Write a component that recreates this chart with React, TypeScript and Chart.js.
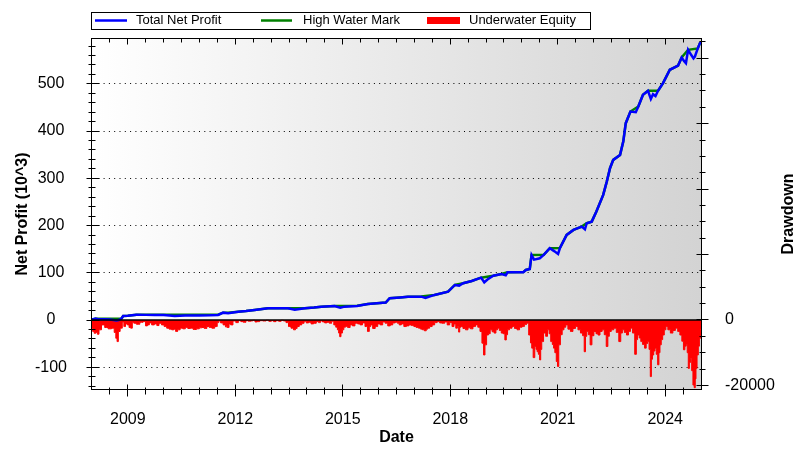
import React, { useEffect, useRef } from "react";
import { Chart, registerables } from "chart.js";

Chart.register(...registerables);

const FONT = '"Liberation Sans", Arial, Helvetica, sans-serif';

// Total Net Profit (thousands)
const profitYears = [
  2008.0, 2008.1, 2008.2, 2008.35, 2008.5, 2008.68, 2008.75, 2008.82, 2008.87, 2009.0,
  2009.24, 2009.5, 2009.75, 2010.0, 2010.31, 2010.6, 2011.0, 2011.3, 2011.52, 2011.66,
  2011.8, 2012.08, 2012.3, 2012.54, 2012.91, 2013.2, 2013.47, 2013.66, 2013.94, 2014.2,
  2014.4, 2014.77, 2014.93, 2015.05, 2015.4, 2015.7, 2016.12, 2016.2, 2016.31, 2016.6,
  2016.82, 2017.19, 2017.31, 2017.56, 2017.94, 2018.13, 2018.25, 2018.36, 2018.6, 2018.86,
  2018.95, 2019.04, 2019.2, 2019.43, 2019.55, 2019.6, 2020.04, 2020.11, 2020.22, 2020.27,
  2020.34, 2020.5, 2020.61, 2020.78, 2020.9, 2021.01, 2021.06, 2021.25, 2021.44, 2021.67,
  2021.76, 2021.81, 2021.95, 2022.08, 2022.27, 2022.37, 2022.46, 2022.55, 2022.74, 2022.83,
  2022.9, 2023.03, 2023.18, 2023.25, 2023.38, 2023.52, 2023.6, 2023.66, 2023.73, 2023.8,
  2023.94, 2024.13, 2024.36, 2024.46, 2024.53, 2024.58, 2024.64, 2024.72, 2024.79, 2024.83,
  2024.91, 2024.97, 2025.0,
];
const profitValues = [
  1, 3, 1.5, 2, 1, -1, 0, 3, 8.7, 9,
  11.5, 11, 10.8, 10.5, 8.7, 9.5, 9.5, 10, 10.8, 15.7,
  14.5, 17.8, 19, 21.4, 25, 25, 25, 22, 25, 26.5,
  28.4, 29.9, 26, 28.4, 30, 34, 36.8, 37, 46.2, 48,
  49.6, 49.6, 47, 53.2, 60.2, 74.3, 73, 77.9, 82.8, 89.8,
  80, 86, 94, 97.6, 95, 101.2, 101.2, 106, 108, 137.9,
  128, 130.8, 137.9, 152, 146, 140, 152, 180.2, 190.8, 197.8,
  192, 205, 208.4, 229.6, 264.9, 293.1, 321.4, 339, 349.6, 377.8,
  416.7, 441.4, 440, 452, 476.7, 485.2, 468, 478, 474, 485.2,
  501.5, 529.7, 538.8, 555.7, 548, 543.8, 572, 562, 554, 557.8,
  575, 586, 588,
];

// High Water Mark (thousands)
const hwmYears = [
  2008.0, 2008.1, 2008.82, 2008.87, 2009.0, 2009.24, 2011.52, 2011.66, 2011.8, 2012.08,
  2012.3, 2012.54, 2012.91, 2013.94, 2014.2, 2014.4, 2014.77, 2015.05, 2015.4, 2015.7,
  2016.12, 2016.2, 2016.31, 2016.6, 2016.82, 2017.19, 2017.56, 2017.94, 2018.13, 2018.36,
  2018.6, 2018.86, 2019.2, 2019.43, 2019.6, 2020.04, 2020.11, 2020.22, 2020.27, 2020.61,
  2020.78, 2021.06, 2021.25, 2021.44, 2021.67, 2021.81, 2021.95, 2022.08, 2022.27, 2022.37,
  2022.46, 2022.55, 2022.74, 2022.83, 2022.9, 2023.03, 2023.25, 2023.38, 2023.52, 2023.8,
  2023.94, 2024.13, 2024.36, 2024.46, 2024.64, 2024.91, 2024.97, 2025.0,
];
const hwmValues = [
  1, 3, 3, 8.7, 9, 11.5, 11.5, 15.7, 15.7, 17.8,
  19, 21.4, 25, 25.2, 26.5, 28.4, 29.9, 30, 30.5, 34,
  36.8, 37, 46.2, 48, 49.6, 50, 53.2, 60.2, 74.3, 77.9,
  82.8, 89.8, 94, 97.6, 101.2, 101.5, 106, 108, 137.9, 138,
  152, 152.5, 180.2, 190.8, 197.8, 205, 208.4, 229.6, 264.9, 293.1,
  321.4, 339, 349.6, 377.8, 416.7, 441.4, 452, 476.7, 485.2, 485.5,
  501.5, 529.7, 538.8, 555.7, 572, 575, 586, 588,
];

// Underwater Equity (dollars, right axis)
const ddYears = [
  2008.0, 2008.04, 2008.08, 2008.13, 2008.17, 2008.22, 2008.31, 2008.4, 2008.5, 2008.59,
  2008.65, 2008.68, 2008.72, 2008.75, 2008.82, 2008.87, 2008.91, 2008.96, 2009.01, 2009.06,
  2009.1, 2009.15, 2009.19, 2009.29, 2009.38, 2009.47, 2009.52, 2009.57, 2009.63, 2009.7,
  2009.78, 2009.84, 2009.9, 2009.98, 2010.05, 2010.12, 2010.19, 2010.26, 2010.31, 2010.36,
  2010.42, 2010.5, 2010.57, 2010.64, 2010.71, 2010.78, 2010.87, 2010.96, 2011.03, 2011.1,
  2011.17, 2011.24, 2011.31, 2011.38, 2011.47, 2011.52, 2011.56, 2011.62, 2011.7, 2011.75,
  2011.8, 2011.85, 2011.89, 2011.98, 2012.05, 2012.12, 2012.19, 2012.26, 2012.33, 2012.4,
  2012.45, 2012.52, 2012.58, 2012.64, 2012.72, 2012.82, 2012.9, 2012.97, 2013.04, 2013.1,
  2013.17, 2013.25, 2013.31, 2013.38, 2013.45, 2013.52, 2013.59, 2013.66, 2013.7, 2013.75,
  2013.82, 2013.89, 2013.95, 2014.01, 2014.08, 2014.15, 2014.22, 2014.3, 2014.35, 2014.4,
  2014.47, 2014.52, 2014.59, 2014.66, 2014.72, 2014.78, 2014.83, 2014.87, 2014.9, 2014.93,
  2014.97, 2015.01, 2015.05, 2015.1, 2015.17, 2015.24, 2015.3, 2015.38, 2015.45, 2015.52,
  2015.58, 2015.66, 2015.72, 2015.76, 2015.8, 2015.87, 2015.94, 2016.01, 2016.08, 2016.15,
  2016.22, 2016.29, 2016.36, 2016.43, 2016.5, 2016.55, 2016.6, 2016.67, 2016.74, 2016.81,
  2016.88, 2016.95, 2017.02, 2017.08, 2017.15, 2017.2, 2017.25, 2017.31, 2017.35, 2017.39,
  2017.46, 2017.53, 2017.6, 2017.67, 2017.74, 2017.81, 2017.88, 2017.95, 2018.02, 2018.08,
  2018.13, 2018.18, 2018.22, 2018.25, 2018.28, 2018.32, 2018.39, 2018.46, 2018.53, 2018.6,
  2018.67, 2018.74, 2018.8, 2018.86, 2018.91, 2018.95, 2018.99, 2019.04, 2019.09, 2019.14,
  2019.2, 2019.25, 2019.3, 2019.34, 2019.4, 2019.45, 2019.5, 2019.55, 2019.58, 2019.62,
  2019.69, 2019.76, 2019.83, 2019.9, 2019.97, 2020.04, 2020.1, 2020.16, 2020.22, 2020.26,
  2020.29, 2020.34, 2020.38, 2020.41, 2020.44, 2020.48, 2020.51, 2020.54, 2020.57, 2020.64,
  2020.69, 2020.74, 2020.78, 2020.83, 2020.87, 2020.9, 2020.94, 2020.98, 2021.01, 2021.05,
  2021.1, 2021.15, 2021.2, 2021.25, 2021.32, 2021.39, 2021.46, 2021.53, 2021.6, 2021.67,
  2021.72, 2021.76, 2021.79, 2021.83, 2021.88, 2021.93, 2021.98, 2022.04, 2022.1, 2022.15,
  2022.21, 2022.27, 2022.33, 2022.38, 2022.42, 2022.46, 2022.53, 2022.6, 2022.67, 2022.74,
  2022.78, 2022.83, 2022.89, 2022.95, 2023.0, 2023.06, 2023.12, 2023.18, 2023.21, 2023.25,
  2023.3, 2023.34, 2023.4, 2023.45, 2023.49, 2023.53, 2023.57, 2023.6, 2023.63, 2023.66,
  2023.7, 2023.73, 2023.77, 2023.81, 2023.84, 2023.87, 2023.91, 2023.95, 2024.0, 2024.04,
  2024.11, 2024.18, 2024.25, 2024.32, 2024.38, 2024.44, 2024.49, 2024.53, 2024.57, 2024.6,
  2024.63, 2024.66, 2024.69, 2024.72, 2024.76, 2024.79, 2024.83, 2024.85, 2024.87, 2024.91,
  2024.94, 2024.97, 2025.0,
];
const ddValues = [
  -2500, -3500, -4050, -3800, -4350, -3000, -1500, -2300, -2700, -2500,
  -3800, -5600, -6600, -3500, -2500, -600, -2000, -1200, -1500, -2300,
  -2500, -800, -1000, -1300, -700, -500, -1800, -1500, -900, -1500,
  -1200, -1700, -1000, -1500, -2000, -2500, -2800, -3000, -2800, -3500,
  -3000, -2500, -2700, -2300, -2600, -2500, -2900, -2700, -2400, -2300,
  -2600, -2000, -2300, -2500, -2000, -800, -300, -900, -1500, -2100,
  -2300, -1200, -1500, -300, -800, -200, -500, -700, -200, -400,
  -300, -100, -600, -500, -200, -300, -100, -400, -200, -500,
  -200, -400, -100, -300, -800, -2000, -2500, -3000, -2600, -2000,
  -1500, -1000, -400, -900, -700, -1200, -1000, -500, -800, -300,
  -600, -900, -700, -1000, -400, -1500, -2200, -3000, -4000, -5100,
  -4000, -3000, -2200, -2000, -2300, -1500, -1800, -1000, -1200, -1500,
  -900, -2000, -3500, -2000, -1500, -2600, -2000, -1200, -1500, -600,
  -1000, -1800, -1500, -900, -700, -1000, -1500, -1200, -2000, -1800,
  -1500, -1700, -2000, -2300, -2500, -2800, -3000, -3300, -2800, -2500,
  -2000, -1500, -800, -500, -900, -1000, -600, -1500, -800, -2000,
  -1200, -2500, -2000, -3700, -2200, -2000, -2600, -3000, -2400, -2700,
  -2000, -1500, -2200, -3500, -7100, -10700, -7600, -4600, -4200, -3000,
  -3600, -4000, -3000, -2500, -3200, -4000, -4200, -6100, -4500, -3000,
  -2500, -2000, -2600, -3000, -2200, -2000, -1400, -1000, -4600, -7000,
  -8600, -11500, -8100, -9000, -9700, -10500, -12200, -9000, -6600, -4000,
  -5000, -3000, -4200, -6600, -7500, -8600, -10000, -12700, -14200, -7600,
  -4500, -3000, -2200, -1500, -2800, -3500, -2600, -2000, -3000, -4000,
  -4800, -9700, -5000, -3500, -4500, -7600, -4800, -3500, -4200, -4600,
  -3500, -3000, -4500, -8100, -5000, -3500, -3000, -2500, -3800, -6600,
  -4000, -3000, -3800, -4600, -3500, -2500, -4000, -10500, -6000, -4600,
  -5500, -6600, -7500, -8600, -7200, -6600, -9000, -17300, -12000, -10700,
  -9500, -8600, -10500, -13700, -10000, -7600, -6000, -4600, -3000, -2000,
  -3000, -4000, -3200, -2500, -3500, -4600, -6500, -9100, -8000, -7600,
  -10000, -14800, -13000, -11700, -15500, -19900, -20700, -18000, -14800, -10700,
  -8000, -5600, -3000,
];

const xTickYears = [2009, 2012, 2015, 2018, 2021, 2024];
const yTickValues = [-100, 0, 100, 200, 300, 400, 500];
const y2TickValues = [0, -20000];
const legendLabels = ["Total Net Profit", "High Water Mark", "Underwater Equity"];
const yTitle = "Net Profit (10^3)";
const y2Title = "Drawdown";
const xTitle = "Date";

export default function App() {
  const canvasRef = useRef<HTMLCanvasElement | null>(null);

  useEffect(() => {
    const canvas = canvasRef.current;
    if (!canvas) return;
    const pts = (xs: number[], ys: number[]) => xs.map((x, i) => ({ x, y: ys[i] }));

    const decor = {
      id: "decor",
      beforeDatasetsDraw(chart: any) {
        const { ctx, chartArea: a, scales } = chart;
        ctx.save();
        const g = ctx.createLinearGradient(a.left, 0, a.right, 0);
        g.addColorStop(0, "#ffffff");
        g.addColorStop(1, "#d3d3d3");
        ctx.fillStyle = g;
        ctx.fillRect(a.left, a.top, a.right - a.left, a.bottom - a.top);
        ctx.strokeStyle = "#000";
        ctx.lineWidth = 1;
        ctx.setLineDash([1, 4.3]);
        for (const v of yTickValues) {
          if (v === 0) continue;
          const py = Math.floor(scales.y.getPixelForValue(v)) + 0.5;
          ctx.beginPath();
          ctx.moveTo(a.left + 1, py);
          ctx.lineTo(a.right, py);
          ctx.stroke();
        }
        ctx.restore();
      },
      afterDatasetsDraw(chart: any) {
        const { ctx, chartArea: a, scales } = chart;
        ctx.save();
        ctx.strokeStyle = "#000";
        const seg = (x1: number, y1: number, x2: number, y2: number) => {
          ctx.beginPath();
          ctx.moveTo(x1, y1);
          ctx.lineTo(x2, y2);
          ctx.stroke();
        };
        const zy = scales.y.getPixelForValue(0);
        ctx.lineWidth = 1.6;
        seg(a.left, zy, a.right, zy);
        ctx.lineWidth = 1;
        const L = a.left - 0.5, R = a.right + 0.5, T = a.top + 0.5, B = a.bottom - 0.5;
        ctx.strokeRect(L, T, R - L, B - T);
        for (let v = -140; v <= 580; v += 20) {
          const py = Math.floor(scales.y.getPixelForValue(v)) + 0.5;
          if (v % 100 === 0) seg(L - 5, py, L + 8, py);
          else seg(L - 3, py, L + 4, py);
        }
        for (let v = -20000; v <= 85000; v += 5000) {
          const py = Math.floor(scales.y2.getPixelForValue(v)) + 0.5;
          if (v % 20000 === 0) seg(R - 5, py, R + 7, py);
          else seg(R - 2, py, R + 4, py);
        }
        for (let k = 2008.5; k < 2025; k += 0.5) {
          const px = Math.floor(scales.x.getPixelForValue(k)) + 0.5;
          const major = xTickYears.includes(k);
          if (major) {
            seg(px, B - 5, px, B + 7);
            seg(px, T, px, T + 6);
          } else {
            seg(px, B - 2, px, B + 5);
            seg(px, T, px, T + 4);
          }
        }
        ctx.restore();
      },
      afterDraw(chart: any) {
        const { ctx, chartArea: a } = chart;
        ctx.save();
        // legend
        ctx.strokeStyle = "#000";
        ctx.lineWidth = 1;
        ctx.strokeRect(91.5, 12.5, 499, 17);
        ctx.lineWidth = 2.5;
        ctx.strokeStyle = "#0000ff";
        ctx.beginPath(); ctx.moveTo(95, 20.5); ctx.lineTo(127, 20.5); ctx.stroke();
        ctx.strokeStyle = "#008000";
        ctx.beginPath(); ctx.moveTo(261, 20.5); ctx.lineTo(292, 20.5); ctx.stroke();
        ctx.fillStyle = "#ff0000";
        ctx.fillRect(427, 17, 33, 7);
        ctx.fillStyle = "#000";
        ctx.font = `13px ${FONT}`;
        ctx.textBaseline = "middle";
        ctx.textAlign = "left";
        ctx.fillText(legendLabels[0], 136, 20.5);
        ctx.fillText(legendLabels[1], 303, 20.5);
        ctx.fillText(legendLabels[2], 469, 20.5);
        // axis titles
        ctx.font = `bold 16px ${FONT}`;
        ctx.textAlign = "center";
        const cy = (a.top + a.bottom) / 2;
        ctx.save();
        ctx.translate(22.5, cy);
        ctx.rotate(-Math.PI / 2);
        ctx.fillText(yTitle, 0, 0);
        ctx.restore();
        ctx.save();
        ctx.translate(788.5, cy);
        ctx.rotate(-Math.PI / 2);
        ctx.fillText(y2Title, 0, 0);
        ctx.restore();
        ctx.fillText(xTitle, (a.left + a.right) / 2, 437.5);
        ctx.restore();
      },
    };

    const tickFont = { family: FONT, size: 16 };

    const chart = new Chart(canvas, {
      type: "line",
      data: {
        datasets: [
          {
            label: legendLabels[0],
            data: pts(profitYears, profitValues),
            yAxisID: "y",
            borderColor: "#0000ff",
            borderWidth: 2.5,
            pointRadius: 0,
            fill: false,
            tension: 0,
          },
          {
            label: legendLabels[1],
            data: pts(hwmYears, hwmValues),
            yAxisID: "y",
            borderColor: "#008000",
            borderWidth: 2.5,
            pointRadius: 0,
            fill: false,
            tension: 0,
          },
          {
            label: legendLabels[2],
            data: pts(ddYears, ddValues),
            yAxisID: "y2",
            borderColor: "#ff0000",
            backgroundColor: "#ff0000",
            borderWidth: 1,
            pointRadius: 0,
            fill: "origin",
            stepped: "middle",
          },
        ],
      },
      options: {
        responsive: false,
        animation: false,
        events: [],
        layout: { padding: { top: 38, left: 0, right: 0, bottom: 0 } },
        plugins: { legend: { display: false }, tooltip: { enabled: false } },
        scales: {
          x: {
            type: "linear",
            min: 2008,
            max: 2025,
            grid: { display: false },
            border: { display: false },
            afterBuildTicks: (s: any) => {
              s.ticks = xTickYears.map((v) => ({ value: v }));
            },
            afterFit: (s: any) => {
              s.height = 72;
            },
            ticks: {
              autoSkip: false,
              maxRotation: 0,
              padding: 12,
              color: "#000",
              font: tickFont,
              callback: (v: any) => String(v),
            },
          },
          y: {
            type: "linear",
            position: "left",
            min: -148,
            max: 597,
            grid: { display: false },
            border: { display: false },
            afterBuildTicks: (s: any) => {
              s.ticks = yTickValues.map((v) => ({ value: v }));
            },
            afterFit: (s: any) => {
              s.width = 92;
            },
            ticks: {
              padding: 17,
              crossAlign: "center",
              color: "#000",
              font: tickFont,
              callback: (v: any) => String(v),
            },
          },
          y2: {
            type: "linear",
            position: "right",
            min: -21400,
            max: 86200,
            grid: { display: false },
            border: { display: false },
            afterBuildTicks: (s: any) => {
              s.ticks = y2TickValues.map((v) => ({ value: v }));
            },
            afterFit: (s: any) => {
              s.width = 111;
            },
            ticks: {
              padding: 16,
              color: "#000",
              font: tickFont,
              callback: (v: any) => String(v),
            },
          },
        },
      },
      plugins: [decor],
    } as any);

    return () => chart.destroy();
  }, []);

  return (
    <div style={{ position: "absolute", left: 0, top: 0, width: 812, height: 462, background: "#fff" }}>
      <canvas ref={canvasRef} width={812} height={462} style={{ display: "block" }} />
    </div>
  );
}
